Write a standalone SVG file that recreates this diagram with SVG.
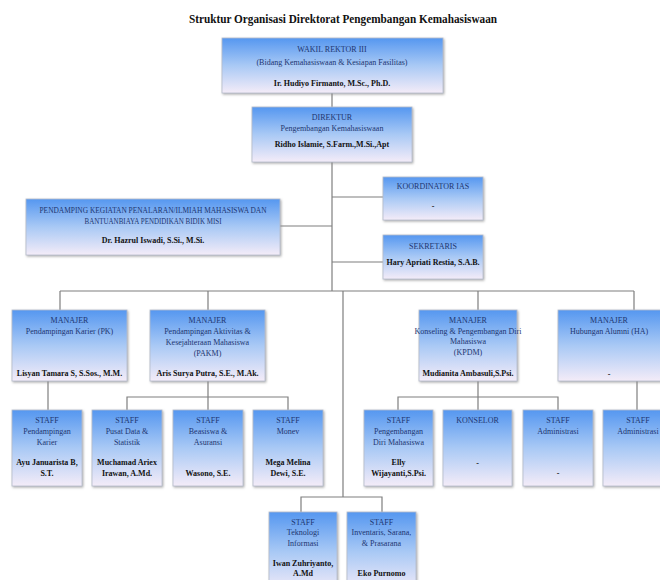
<svg xmlns="http://www.w3.org/2000/svg" width="660" height="580" viewBox="0 0 660 580">
<defs>
<linearGradient id="g" x1="0" y1="0" x2="0" y2="1">
<stop offset="0" stop-color="#5597f0"/>
<stop offset="0.5" stop-color="#a9c9f5"/>
<stop offset="1" stop-color="#f4ecf8"/>
</linearGradient>
<filter id="sh" x="-10%" y="-10%" width="120%" height="130%">
<feDropShadow dx="1" dy="1.2" stdDeviation="0.8" flood-color="#8a8a8a" flood-opacity="0.7"/>
</filter>
</defs>
<style>
.box{fill:url(#g);stroke:#b4bccb;stroke-width:0.8;filter:url(#sh)}
text{font-family:"Liberation Serif","Times New Roman",serif;font-size:8px;text-anchor:middle}
.t{fill:#1d3570}
.n{fill:#111;font-weight:bold}
.title{font-size:13.5px;font-weight:bold;fill:#111}
.c{stroke:#7f7f7f;stroke-width:1.2;fill:none}
</style>
<rect width="660" height="580" fill="#ffffff"/>
<text class="title" x="343" y="23" textLength="308" lengthAdjust="spacingAndGlyphs">Struktur Organisasi Direktorat Pengembangan Kemahasiswaan</text>

<g id="connectors">
<path class="c" d="M332 93V107"/>
<path class="c" d="M332 162V291"/>
<path class="c" d="M332 197H383"/>
<path class="c" d="M280 226H332"/>
<path class="c" d="M332 262H383"/>
<path class="c" d="M60 291H634"/>
<path class="c" d="M60 291V310M208 291V310M478 291V310M634 291V310"/>
<path class="c" d="M48 381V410"/>
<path class="c" d="M208 381V397M127 410V397H288V410M208 397V410"/>
<path class="c" d="M478 381V397M398 410V397H558V410M478 397V410"/>
<path class="c" d="M637 381V410"/>
<path class="c" d="M343 291V497M301 512V497H382V512"/>
</g>

<g id="wakil">
<rect class="box" x="222" y="38" width="221" height="55"/>
<text class="t" x="332" y="52">WAKIL REKTOR III</text>
<text class="t" x="332" y="65">(Bidang Kemahasiswaan &amp; Kesiapan Fasilitas)</text>
<text class="n" x="332" y="86">Ir. Hudiyo Firmanto, M.Sc., Ph.D.</text>
</g>

<g id="direktur">
<rect class="box" x="252" y="107" width="160" height="55"/>
<text class="t" x="332" y="120">DIREKTUR</text>
<text class="t" x="332" y="131">Pengembangan Kemahasiswaan</text>
<text class="n" x="332" y="147">Ridho Islamie, S.Farm.,M.Si.,Apt</text>
</g>

<g id="koordinator">
<rect class="box" x="383" y="177" width="100" height="43"/>
<text class="t" x="433" y="189">KOORDINATOR IAS</text>
<text class="n" x="433" y="209">-</text>
</g>

<g id="pendamping">
<rect class="box" x="26" y="199" width="254" height="56"/>
<text class="t" x="153" y="213" textLength="227" lengthAdjust="spacingAndGlyphs">PENDAMPING KEGIATAN PENALARAN/ILMIAH MAHASISWA DAN</text>
<text class="t" x="153" y="224" textLength="137" lengthAdjust="spacingAndGlyphs">BANTUANBIAYA PENDIDIKAN BIDIK MISI</text>
<text class="n" x="153" y="243">Dr. Hazrul Iswadi, S.Si., M.Si.</text>
</g>

<g id="sekretaris">
<rect class="box" x="383" y="235" width="100" height="44"/>
<text class="t" x="433" y="249">SEKRETARIS</text>
<text class="n" x="433" y="265">Hary Apriati Restia, S.A.B.</text>
</g>

<g id="manajer-pk">
<rect class="box" x="12" y="310" width="115" height="71"/>
<text class="t" x="69.5" y="323">MANAJER</text>
<text class="t" x="69.5" y="334">Pendampingan Karier (PK)</text>
<text class="n" x="69.5" y="376">Lisyan Tamara S, S.Sos., M.M.</text>
</g>

<g id="manajer-pakm">
<rect class="box" x="150" y="310" width="115" height="71"/>
<text class="t" x="207.5" y="323">MANAJER</text>
<text class="t" x="207.5" y="334">Pendampingan Aktivitas &amp;</text>
<text class="t" x="207.5" y="345">Kesejahteraan Mahasiswa</text>
<text class="t" x="207.5" y="356">(PAKM)</text>
<text class="n" x="207.5" y="376">Aris Surya Putra, S.E., M.Ak.</text>
</g>

<g id="manajer-kpdm">
<rect class="box" x="419" y="310" width="98" height="71"/>
<text class="t" x="468" y="323">MANAJER</text>
<text class="t" x="468" y="334">Konseling &amp; Pengembangan Diri</text>
<text class="t" x="468" y="344">Mahasiswa</text>
<text class="t" x="468" y="355">(KPDM)</text>
<text class="n" x="468" y="376">Mudianita Ambasuli,S.Psi.</text>
</g>

<g id="manajer-ha">
<rect class="box" x="558" y="310" width="110" height="71"/>
<text class="t" x="609" y="323">MANAJER</text>
<text class="t" x="609" y="334">Hubungan Alumni (HA)</text>
<text class="n" x="609" y="377">-</text>
</g>

<g id="staff-pk">
<rect class="box" x="12" y="410" width="70" height="76"/>
<text class="t" x="47" y="423">STAFF</text>
<text class="t" x="47" y="434">Pendampingan</text>
<text class="t" x="47" y="445">Karier</text>
<text class="n" x="47" y="465">Ayu Januarista B,</text>
<text class="n" x="47" y="476">S.T.</text>
</g>

<g id="staff-pusat-data">
<rect class="box" x="92" y="410" width="70" height="76"/>
<text class="t" x="127" y="423">STAFF</text>
<text class="t" x="127" y="434">Pusat Data &amp;</text>
<text class="t" x="127" y="445">Statistik</text>
<text class="n" x="127" y="465">Muchamad Ariex</text>
<text class="n" x="127" y="476">Irawan, A.Md.</text>
</g>

<g id="staff-beasiswa">
<rect class="box" x="173" y="410" width="70" height="76"/>
<text class="t" x="208" y="423">STAFF</text>
<text class="t" x="208" y="434">Beasiswa &amp;</text>
<text class="t" x="208" y="445">Asuransi</text>
<text class="n" x="208" y="476">Wasono, S.E.</text>
</g>

<g id="staff-monev">
<rect class="box" x="253" y="410" width="70" height="76"/>
<text class="t" x="288" y="423">STAFF</text>
<text class="t" x="288" y="434">Monev</text>
<text class="n" x="288" y="465">Mega Melina</text>
<text class="n" x="288" y="476">Dewi, S.E.</text>
</g>

<g id="staff-pengembangan">
<rect class="box" x="364" y="410" width="69" height="76"/>
<text class="t" x="398.5" y="423">STAFF</text>
<text class="t" x="398.5" y="434">Pengembangan</text>
<text class="t" x="398.5" y="445">Diri Mahasiswa</text>
<text class="n" x="398.5" y="465">Elly</text>
<text class="n" x="398.5" y="476">Wijayanti,S.Psi.</text>
</g>

<g id="konselor">
<rect class="box" x="443" y="410" width="69" height="76"/>
<text class="t" x="477.5" y="423">KONSELOR</text>
<text class="n" x="477.5" y="466">-</text>
</g>

<g id="staff-administrasi">
<rect class="box" x="523" y="410" width="70" height="76"/>
<text class="t" x="558" y="423">STAFF</text>
<text class="t" x="558" y="434">Administrasi</text>
<text class="n" x="558" y="476">-</text>
</g>

<g id="staff-administrasi-ha">
<rect class="box" x="603" y="410" width="70" height="76"/>
<text class="t" x="638" y="423">STAFF</text>
<text class="t" x="638" y="434">Administrasi</text>
</g>

<g id="staff-ti">
<rect class="box" x="269" y="512" width="68" height="80"/>
<text class="t" x="303" y="525">STAFF</text>
<text class="t" x="303" y="535">Teknologi</text>
<text class="t" x="303" y="546">Informasi</text>
<text class="n" x="303" y="566">Iwan Zuhriyanto,</text>
<text class="n" x="303" y="576">A.Md</text>
</g>

<g id="staff-inventaris">
<rect class="box" x="347" y="512" width="69" height="80"/>
<text class="t" x="381.5" y="525">STAFF</text>
<text class="t" x="381.5" y="535">Inventaris, Sarana,</text>
<text class="t" x="381.5" y="546">&amp; Prasarana</text>
<text class="n" x="381.5" y="576">Eko Purnomo</text>
</g>
</svg>
